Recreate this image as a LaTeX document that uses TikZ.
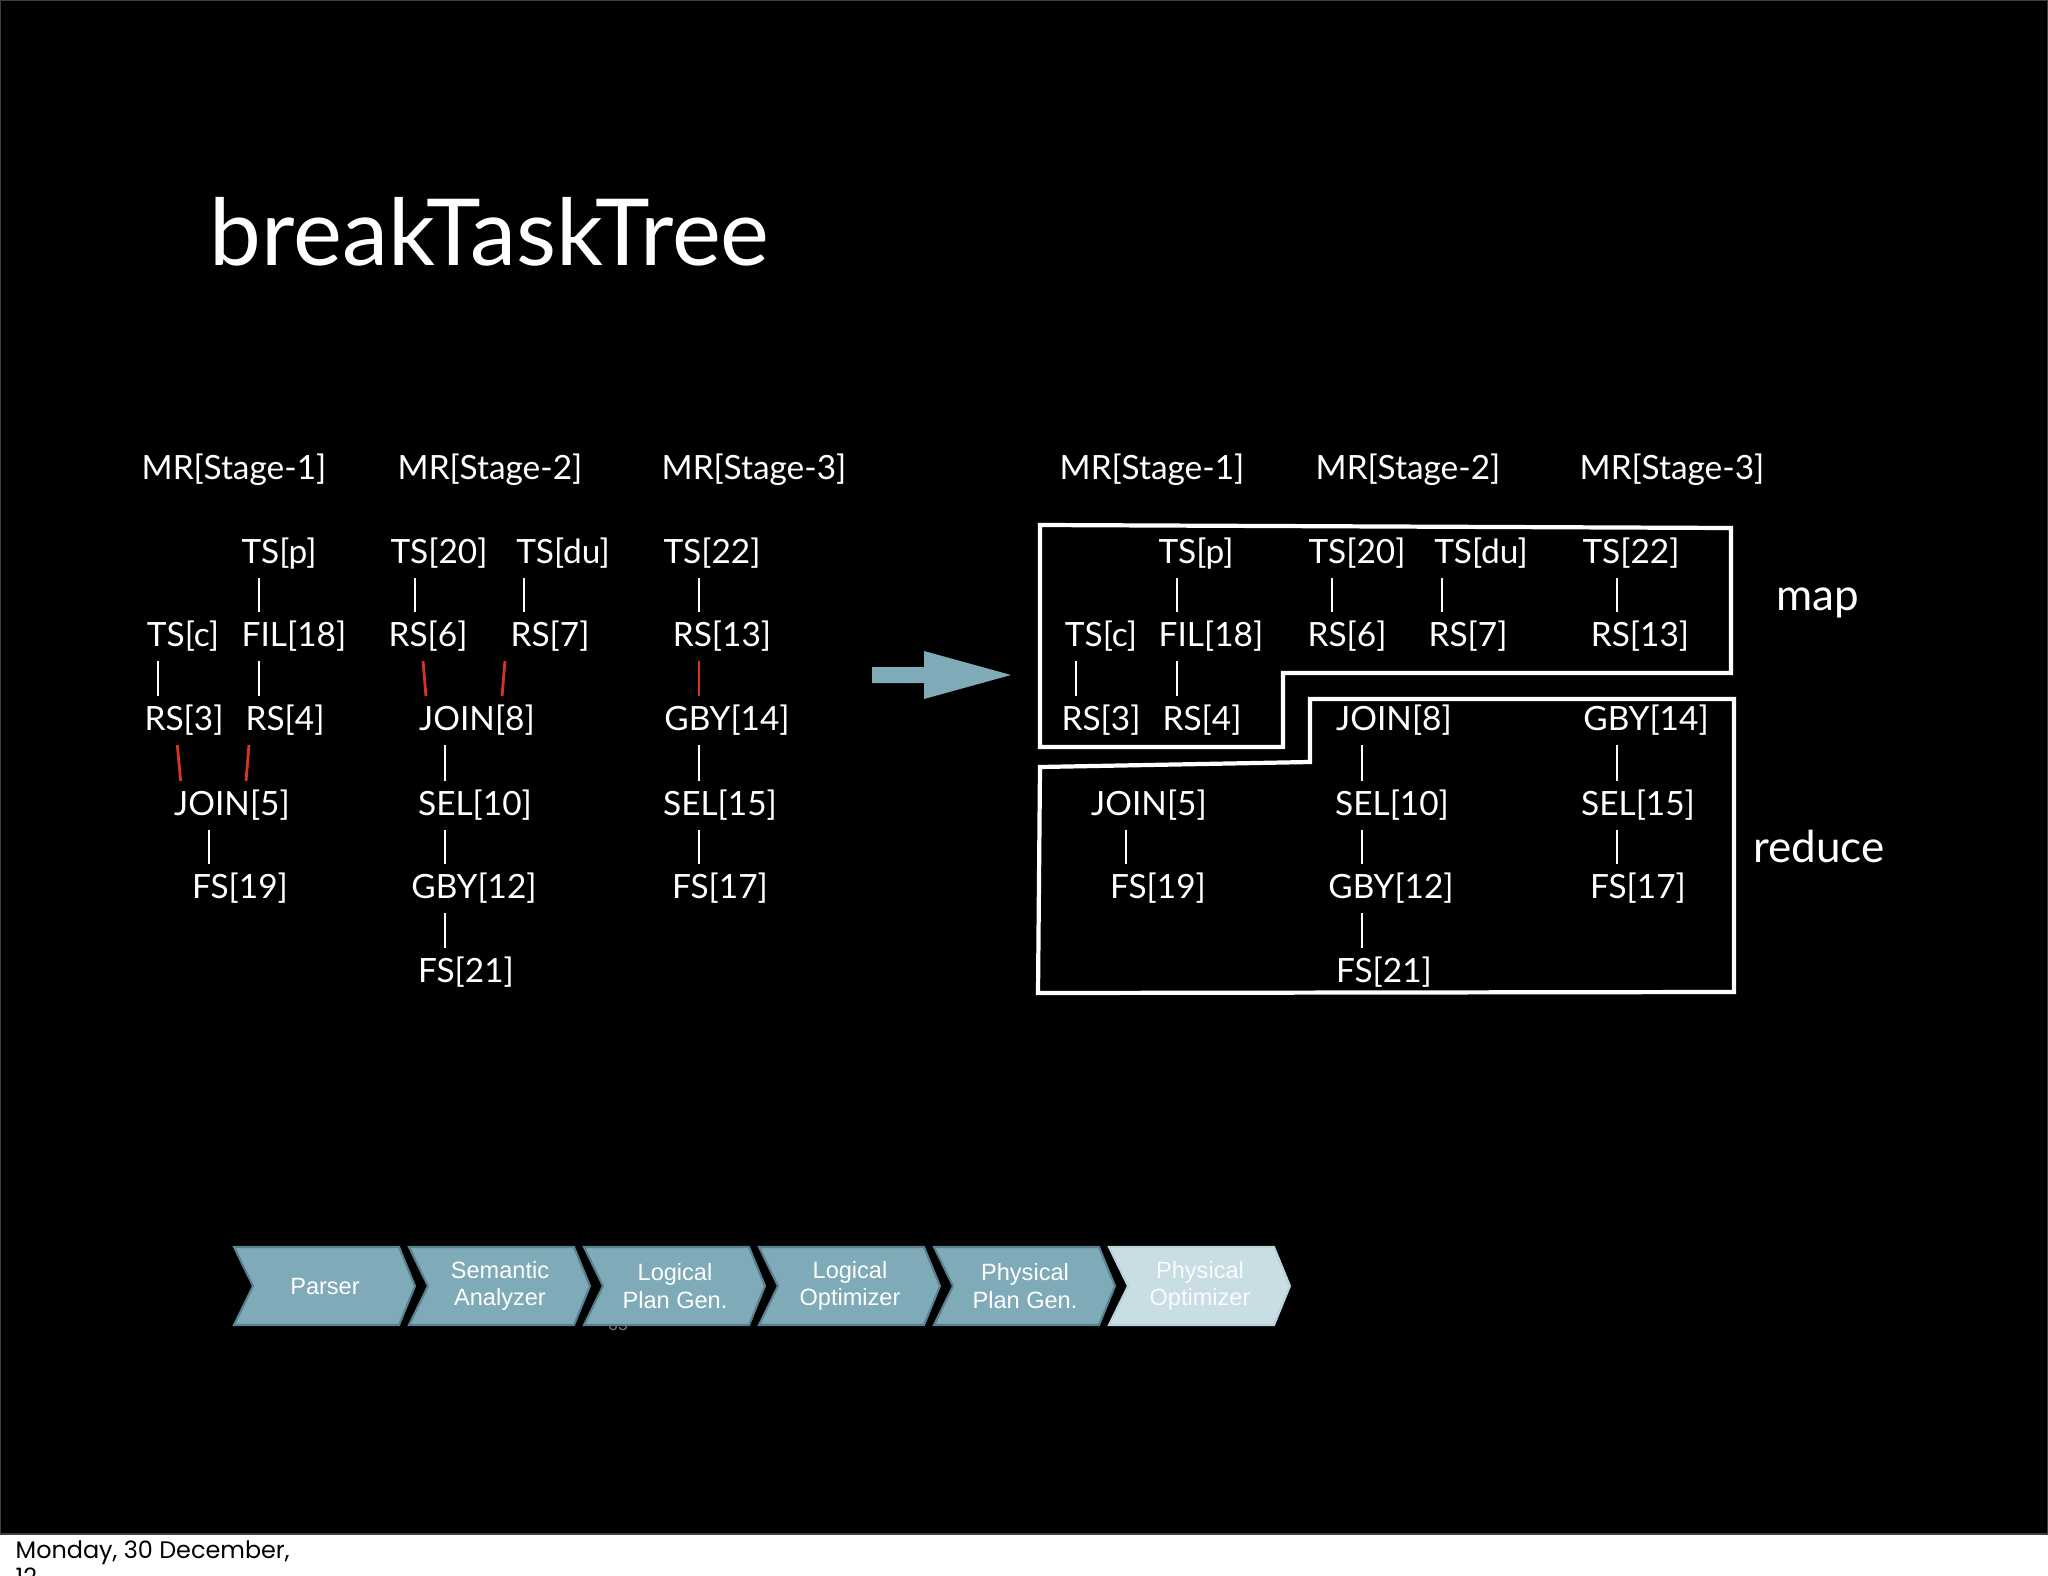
\documentclass[tikz,border=0pt]{standalone}
\usepackage{fontspec}
\setmainfont{Lato}
\newfontfamily\chevfont{Liberation Sans}
\newfontfamily\footfont{Poppins}
\usepackage{tikz}
\usetikzlibrary{calc}

\definecolor{steel}{RGB}{127,170,184}
\definecolor{steeldark}{RGB}{88,130,145}
\definecolor{steelpale}{RGB}{200,221,228}
\definecolor{joinred}{RGB}{214,52,30}

\begin{document}
\begin{tikzpicture}[x=0.01cm,y=-0.01cm,
    op/.style={text=white,inner sep=0pt,yshift=-1pt,font=\fontsize{9.5}{12}\selectfont},
    phase/.style={text=white,inner sep=0pt,font=\fontsize{12.5}{15}\selectfont,anchor=base},
    title/.style={text=white,inner sep=0pt,font=\fontsize{26.3}{31}\selectfont,anchor=base west},
    bar/.style={draw=white,line width=0.8pt,shorten <=7pt,shorten >=7pt},
    redbar/.style={bar,draw=joinred},
    box/.style={draw=white,line width=1.2pt,line join=miter},
    chev/.style={fill=steel,draw=steeldark,line width=0.6pt},
    chev txt/.style={text=white,inner sep=0pt,align=center,font=\chevfont\fontsize{6.7}{7.9}\selectfont},
    chevpale/.style={fill=steelpale,draw=steelpale!80!steel,line width=0.6pt},
    chevpale txt/.style={chev txt,text=white!90!steelpale}]

  \clip (0,0) rectangle (2048,1576);
  \fill[white] (0,0) rectangle (2048,1576);
  \draw[fill=black,draw=black!75] (0,0) rectangle (2048,1534);

  \draw (209,265) node[title] (title) {breakTaskTree};

  % before: three stages as one tree each
  \draw (234,466) node[op] (mr1) {MR[Stage-1]};
  \draw (490,466) node[op] (mr2) {MR[Stage-2]};
  \draw (754,466) node[op] (mr3) {MR[Stage-3]};

  \draw (279,550) node[op] (tsp) {TS[p]};
  \draw (183,633) node[op] (tsc) {TS[c]};
  \draw (294,633) node[op] (fil18) {FIL[18]};
  \draw (184,717) node[op] (rs3) {RS[3]};
  \draw (285,717) node[op] (rs4) {RS[4]};
  \draw (232,802) node[op] (join5) {JOIN[5]};
  \draw (240,885) node[op] (fs19) {FS[19]};

  \draw (439,550) node[op] (ts20) {TS[20]};
  \draw (563,550) node[op] (tsdu) {TS[du]};
  \draw (428,633) node[op] (rs6) {RS[6]};
  \draw (550,633) node[op] (rs7) {RS[7]};
  \draw (477,717) node[op] (join8) {JOIN[8]};
  \draw (475,802) node[op] (sel10) {SEL[10]};
  \draw (474,885) node[op] (gby12) {GBY[12]};
  \draw (466,969) node[op] (fs21) {FS[21]};

  \draw (712,550) node[op] (ts22) {TS[22]};
  \draw (722,633) node[op] (rs13) {RS[13]};
  \draw (727,717) node[op] (gby14) {GBY[14]};
  \draw (720,802) node[op] (sel15) {SEL[15]};
  \draw (720,885) node[op] (fs17) {FS[17]};

  \path[bar] ($(tsp)+(-20,0)$) edge ($(tsp |- fil18)+(-20,0)$);
  \path[bar] ($(tsc)+(-25,0)$) edge ($(tsc |- rs3)+(-25,0)$);
  \path[bar] ($(fil18)+(-35,0)$) edge ($(fil18 |- rs4)+(-35,0)$);
  \path[redbar] ($(rs3)+(-9,0)$) edge ($(rs3 |- join5)+(-1,0)$);
  \path[redbar] ($(rs4)+(-34,0)$) edge ($(rs4 |- join5)+(-41,0)$);
  \path[bar] ($(join5)+(-23,0)$) edge ($(join5 |- fs19)+(-23,0)$);

  \path[bar] ($(ts20)+(-24,0)$) edge ($(ts20 |- rs6)+(-24,0)$);
  \path[bar] ($(tsdu)+(-39,0)$) edge ($(tsdu |- rs7)+(-39,0)$);
  \path[redbar] ($(rs6)+(-7,0)$) edge ($(rs6 |- join8)+(0,0)$);
  \path[redbar] ($(rs7)+(-43,0)$) edge ($(rs7 |- join8)+(-50,0)$);
  \path[bar] ($(join8)+(-32,0)$) edge ($(join8 |- sel10)+(-32,0)$);
  \path[bar] ($(sel10)+(-30,0)$) edge ($(sel10 |- gby12)+(-30,0)$);
  \path[bar] ($(gby12)+(-29,0)$) edge ($(gby12 |- fs21)+(-29,0)$);

  \path[bar] ($(ts22)+(-13,0)$) edge ($(ts22 |- rs13)+(-13,0)$);
  \path[redbar] ($(rs13)+(-23,0)$) edge ($(rs13 |- gby14)+(-23,0)$);
  \path[bar] ($(gby14)+(-28,0)$) edge ($(gby14 |- sel15)+(-28,0)$);
  \path[bar] ($(sel15)+(-21,0)$) edge ($(sel15 |- fs17)+(-21,0)$);

  \fill[steel] (872,667) -- (924,667) -- (924,651) -- (1011,675)
    -- (924,699) -- (924,683) -- (872,683) -- cycle;

  % after: cut into map and reduce
  \draw (1152,466) node[op] (mr12) {MR[Stage-1]};
  \draw (1408,466) node[op] (mr22) {MR[Stage-2]};
  \draw (1672,466) node[op] (mr32) {MR[Stage-3]};

  \draw (1196,550) node[op] (tsp2) {TS[p]};
  \draw (1357,550) node[op] (ts202) {TS[20]};
  \draw (1481,550) node[op] (tsdu2) {TS[du]};
  \draw (1631,550) node[op] (ts222) {TS[22]};
  \draw (1101,633) node[op] (tsc2) {TS[c]};
  \draw (1211,633) node[op] (fil182) {FIL[18]};
  \draw (1347,633) node[op] (rs62) {RS[6]};
  \draw (1468,633) node[op] (rs72) {RS[7]};
  \draw (1640,633) node[op] (rs132) {RS[13]};
  \draw (1101,717) node[op] (rs32) {RS[3]};
  \draw (1202,717) node[op] (rs42) {RS[4]};
  \draw (1394,717) node[op] (join82) {JOIN[8]};
  \draw (1646,717) node[op] (gby142) {GBY[14]};
  \draw (1149,802) node[op] (join52) {JOIN[5]};
  \draw (1392,802) node[op] (sel102) {SEL[10]};
  \draw (1638,802) node[op] (sel152) {SEL[15]};
  \draw (1158,885) node[op] (fs192) {FS[19]};
  \draw (1391,885) node[op] (gby122) {GBY[12]};
  \draw (1638,885) node[op] (fs172) {FS[17]};
  \draw (1384,969) node[op] (fs212) {FS[21]};

  \path[bar] ($(tsp2)+(-19,0)$) edge ($(tsp2 |- fil182)+(-19,0)$);
  \path[bar] ($(ts202)+(-25,0)$) edge ($(ts202 |- rs62)+(-25,0)$);
  \path[bar] ($(tsdu2)+(-39,0)$) edge ($(tsdu2 |- rs72)+(-39,0)$);
  \path[bar] ($(ts222)+(-14,0)$) edge ($(ts222 |- rs132)+(-14,0)$);
  \path[bar] ($(tsc2)+(-25,0)$) edge ($(tsc2 |- rs32)+(-25,0)$);
  \path[bar] ($(fil182)+(-34,0)$) edge ($(fil182 |- rs42)+(-34,0)$);
  \path[bar] ($(join82)+(-32,0)$) edge ($(join82 |- sel102)+(-32,0)$);
  \path[bar] ($(gby142)+(-29,0)$) edge ($(gby142 |- sel152)+(-29,0)$);
  \path[bar] ($(join52)+(-23,0)$) edge ($(join52 |- fs192)+(-23,0)$);
  \path[bar] ($(sel102)+(-30,0)$) edge ($(sel102 |- gby122)+(-30,0)$);
  \path[bar] ($(sel152)+(-21,0)$) edge ($(sel152 |- fs172)+(-21,0)$);
  \path[bar] ($(gby122)+(-29,0)$) edge ($(gby122 |- fs212)+(-29,0)$);

  \draw[box] (1040,525) -- (1731,528) -- (1731,673) -- (1283,673)
    -- (1283,747) -- (1040,747) -- cycle;
  \draw[box] (1040,767) -- (1310,762) -- (1310,699) -- (1734,699)
    -- (1734,992) -- (1038,993) -- cycle;
  \draw (1818,610) node[phase] (map) {map};
  \draw (1819,862) node[phase] (reduce) {reduce};

  % compiler phases
  \draw (618,1324) node[text=black!55,inner sep=0pt,font=\chevfont\fontsize{5}{6}\selectfont] (slideno) {63};
  \foreach \nm/\lbl/\sty [count=\i from 0] in {parser/Parser/chev,
      semantic/{Semantic\\Analyzer}/chev, lplan/{Logical\\Plan Gen.}/chev,
      lopt/{Logical\\Optimizer}/chev, pplan/{Physical\\Plan Gen.}/chev,
      popt/{Physical\\Optimizer}/chevpale}
  {
    \draw[\sty] (234+175*\i,1247) -- ++(165,0) -- ++(16,39) -- ++(-16,39)
      -- ++(-165,0) -- ++(19,-39) -- cycle;
    \draw (325+175*\i,1286) node[\sty\space txt] (\nm) {\lbl};
  }

  \draw (15,1540) node[anchor=north west,inner sep=0pt,align=left,
    font=\footfont\fontsize{6.8}{7.8}\selectfont] (date) {Monday, 30 December,\\12};
\end{tikzpicture}
\end{document}
